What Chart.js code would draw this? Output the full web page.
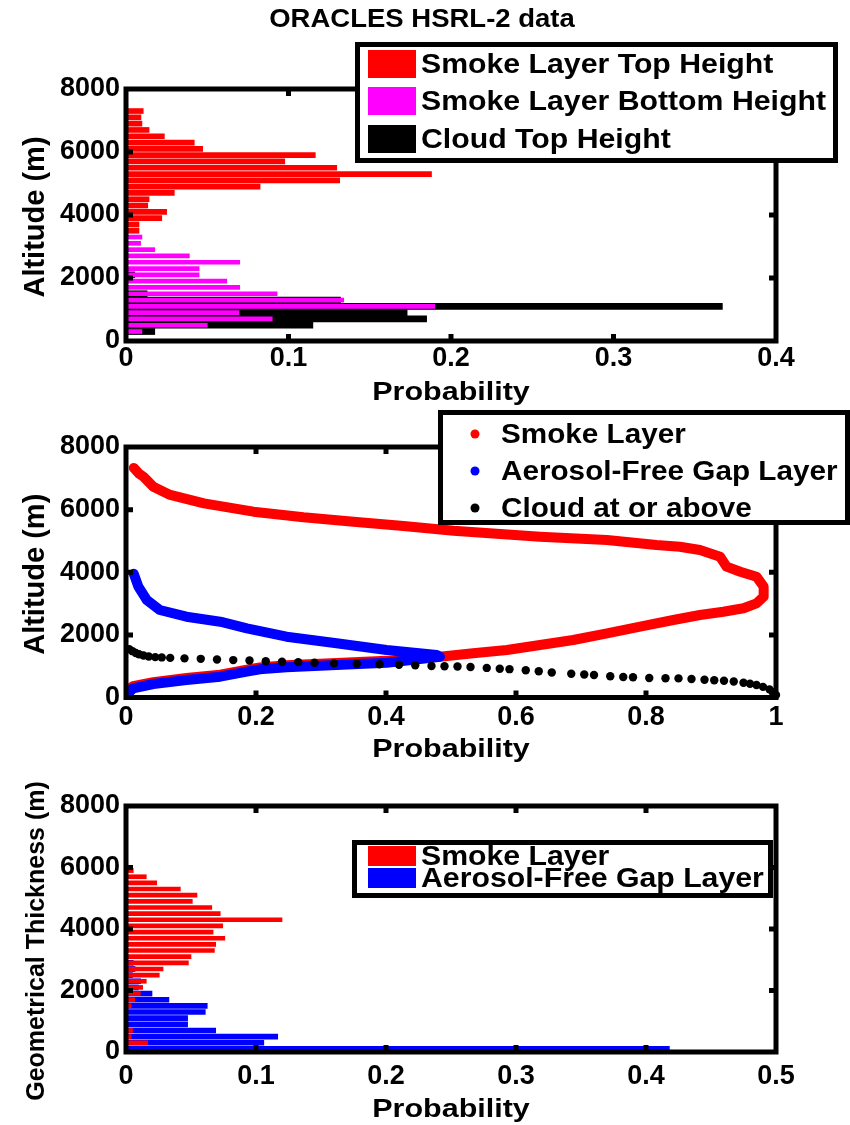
<!DOCTYPE html>
<html>
<head>
<meta charset="utf-8">
<title>ORACLES HSRL-2 data</title>
<script src="https://cdn.jsdelivr.net/npm/chart.js@4.4.0/dist/chart.umd.min.js"></script>
<style>
    body { margin: 0; background: #fff; }
    #quadro { position: relative; width: 850px; height: 1125px; }
    .painel { position: absolute; left: 0; }
</style>
</head>
<body>
<div id="quadro">
    <canvas id="grafico1" class="painel" style="top:0" width="850" height="405"></canvas>
    <canvas id="grafico2" class="painel" style="top:405px" width="850" height="360"></canvas>
    <canvas id="grafico3" class="painel" style="top:765px" width="850" height="360"></canvas>
</div>
<script>
// Painel 1 - centro de cada classe de 200 m (altitude, m)
var altitudesPainel1 = [300, 500, 700, 900, 1100, 1300, 1500, 1700, 1900, 2100,
    2300, 2500, 2700, 2900, 3100, 3300, 3500, 3700, 3900, 4100,
    4300, 4500, 4700, 4900, 5100, 5300, 5500, 5700, 5900, 6100,
    6300, 6500, 6700, 6900, 7100, 7300];
var probTopoFumaca = [0, 0, 0, 0, 0, 0, 0, 0, 0, 0,
    0, 0, 0, 0, 0, 0.001, 0.008, 0.008, 0.022, 0.025,
    0.0134, 0.0142, 0.0297, 0.0825, 0.1315, 0.188, 0.1297, 0.0977, 0.1165, 0.0472,
    0.042, 0.0236, 0.0142, 0.0098, 0.0092, 0.0106];
var probBaseFumaca = [0.0098, 0.050, 0.090, 0.0695, 0.190, 0.134, 0.093, 0.070, 0.062, 0.045,
    0.045, 0.070, 0.039, 0.0177, 0.009, 0.0098, 0.005, 0.006, 0.003, 0,
    0, 0, 0, 0, 0, 0, 0, 0, 0, 0,
    0, 0, 0, 0, 0, 0];
var probTopoNuvem = [0.0177, 0.115, 0.185, 0.173, 0.367, 0.132, 0.013, 0, 0, 0.0054,
    0, 0, 0, 0, 0, 0, 0, 0, 0, 0,
    0, 0, 0, 0, 0, 0, 0, 0, 0, 0,
    0, 0, 0, 0, 0, 0];

// Painel 2 - probabilidade de ocorrência por altitude
var probCamadaFumaca = [0.012, 0.02, 0.027, 0.042, 0.068, 0.12, 0.196, 0.273, 0.35, 0.427,
    0.504, 0.637, 0.74, 0.816, 0.852, 0.883, 0.914, 0.924, 0.945, 0.970,
    0.981, 0.981, 0.970, 0.950, 0.919, 0.883, 0.842, 0.791, 0.740, 0.688,
    0.637, 0.586, 0.534, 0.483, 0.401, 0.324, 0.247, 0.206, 0.186, 0.145,
    0.093, 0.042, 0.011, 0.002];
var altCamadaFumaca = [7330, 7150, 7050, 6730, 6470, 6200, 5935, 5755, 5616, 5477,
    5328, 5136, 5030, 4870, 4816, 4711, 4497, 4178, 4018, 3858,
    3539, 3219, 3007, 2849, 2740, 2635, 2475, 2261, 2050, 1836,
    1677, 1517, 1411, 1303, 1170, 1100, 1030, 960, 890, 730,
    620, 490, 360, 230];
var probCamadaGap = [0.012, 0.019, 0.032, 0.052, 0.093, 0.145, 0.186, 0.247, 0.324, 0.401,
    0.478, 0.483, 0.401, 0.324, 0.247, 0.206, 0.186, 0.145, 0.093, 0.042,
    0.011, 0.001];
var altCamadaGap = [3950, 3539, 3114, 2795, 2581, 2421, 2210, 1942, 1731, 1517,
    1357, 1303, 1112, 1038, 964, 900, 825, 665, 559, 431,
    294, 80];
var probNuvemAcima = [0.005, 0.01, 0.015, 0.02, 0.027, 0.035, 0.045, 0.055, 0.068, 0.09,
    0.115, 0.14, 0.165, 0.19, 0.215, 0.24, 0.265, 0.29, 0.32, 0.355,
    0.39, 0.42, 0.445, 0.47, 0.49, 0.51, 0.53, 0.555, 0.575, 0.59,
    0.615, 0.635, 0.655, 0.685, 0.705, 0.72, 0.745, 0.765, 0.78, 0.805,
    0.83, 0.85, 0.87, 0.89, 0.905, 0.92, 0.935, 0.95, 0.96, 0.97,
    0.98, 0.99, 0.995, 1.0];
var altNuvemAcima = [1540, 1480, 1420, 1380, 1340, 1310, 1290, 1280, 1265, 1250,
    1235, 1215, 1195, 1180, 1160, 1140, 1130, 1110, 1090, 1075,
    1060, 1045, 1030, 1005, 1000, 990, 975, 945, 920, 905,
    870, 840, 800, 760, 735, 720, 680, 655, 645, 625,
    615, 610, 590, 565, 550, 535, 510, 470, 440, 400,
    340, 260, 170, 80];

// Painel 3 - espessura geométrica (centro da classe de 200 m)
var espessurasPainel3 = [100, 300, 500, 700, 900, 1100, 1300, 1500, 1700, 1900,
    2100, 2300, 2500, 2700, 2900, 3100, 3300, 3500, 3700, 3900,
    4100, 4300, 4500, 4700, 4900, 5100, 5300, 5500, 5700, 5900];
var probEspessuraFumaca = [0, 0.0167, 0.004, 0.005, 0, 0, 0, 0.004, 0.0067, 0.011,
    0.0128, 0.0156, 0.0256, 0.0285, 0.048, 0.050, 0.068, 0.069, 0.076, 0.067,
    0.0744, 0.120, 0.0725, 0.066, 0.051, 0.0546, 0.0418, 0.0236, 0.0156, 0.0056];
var probEspessuraGap = [0.418, 0.106, 0.1167, 0.069, 0.0474, 0.0474, 0.061, 0.0625, 0.033, 0.020,
    0.0095, 0.0113, 0.005, 0.007, 0.0056, 0, 0, 0, 0, 0,
    0, 0, 0, 0, 0, 0, 0, 0, 0, 0];

var fonte = "'Liberation Sans', Arial, Helvetica, sans-serif";
Chart.defaults.font.family = fonte;
Chart.defaults.font.weight = 'bold';
Chart.defaults.color = '#000';

// junta duas listas em pontos {x, y}
function montarPares(listaX, listaY) {
    var pares = [];
    for (var i = 0; i < listaX.length; i++) {
        pares.push({x: listaX[i], y: listaY[i]});
    }
    return pares;
}

// texto em negrito, um pouco alargado como no original
function escreverTexto(ctx, texto, x, y, tamanho, escalaX, alinhamento, base, rotacao) {
    ctx.save();
    ctx.translate(x, y);
    if (rotacao) ctx.rotate(rotacao);
    ctx.scale(escalaX, 1);
    ctx.font = 'bold ' + tamanho + 'px ' + fonte;
    ctx.fillStyle = '#000';
    ctx.textAlign = alinhamento;
    ctx.textBaseline = base;
    ctx.fillText(texto, 0, 0);
    ctx.restore();
}

function desenharLegenda(ctx, chart, leg) {
    ctx.fillStyle = '#fff';
    ctx.fillRect(leg.x, leg.y, leg.largura, leg.altura);
    ctx.lineWidth = 5;
    ctx.strokeStyle = '#000';
    ctx.strokeRect(leg.x, leg.y, leg.largura, leg.altura);

    chart.data.datasets.forEach(function(ds, i) {
        var cy = leg.linhas[i];
        ctx.fillStyle = ds.backgroundColor;
        if (leg.tipo == 'ponto') {
            ctx.beginPath();
            ctx.arc(leg.marcadorX, cy, 4.5, 0, Math.PI * 2);
            ctx.fill();
        } else {
            ctx.fillRect(leg.marcadorX, cy - leg.marcadorAltura / 2, 48, leg.marcadorAltura);
        }
        escreverTexto(ctx, ds.label, leg.textoX, cy + 1, 28, leg.escalaTexto || 1.08, 'left', 'middle');
    });
}

// caixa com marcas internas no estilo MATLAB + títulos + legenda
var moldura = {
    id: 'moldura',
    afterDraw: function(chart, args, opcoes) {
        var ctx = chart.ctx;
        var area = chart.chartArea;
        var escalaX = chart.scales.x;
        var escalaY = chart.scales.y;
        ctx.save();
        ctx.strokeStyle = '#000';
        ctx.lineWidth = 5;
        ctx.beginPath();
        escalaX.ticks.forEach(function(t) {
            var px = escalaX.getPixelForValue(t.value);
            if (px <= area.left + 3 || px >= area.right - 3) return;
            ctx.moveTo(px, area.bottom);
            ctx.lineTo(px, area.bottom - 7);
            ctx.moveTo(px, area.top);
            ctx.lineTo(px, area.top + 7);
        });
        escalaY.ticks.forEach(function(t) {
            var py = escalaY.getPixelForValue(t.value);
            if (py <= area.top + 3 || py >= area.bottom - 3) return;
            ctx.moveTo(area.left, py);
            ctx.lineTo(area.left + 7, py);
            ctx.moveTo(area.right, py);
            ctx.lineTo(area.right - 7, py);
        });
        ctx.stroke();
        ctx.strokeRect(area.left, area.top, area.right - area.left, area.bottom - area.top);

        if (opcoes.titulo) {
            escreverTexto(ctx, opcoes.titulo, 422, 27, 25, 1.1, 'center', 'alphabetic');
        }
        escreverTexto(ctx, 'Probability', (area.left + area.right) / 2, opcoes.baseTituloX, 25, 1.22, 'center', 'alphabetic');
        escreverTexto(ctx, opcoes.tituloY, 44, (area.top + area.bottom) / 2 + opcoes.deslocTituloY,
            opcoes.tamanhoTituloY, 1, 'center', 'alphabetic', -Math.PI / 2);

        if (opcoes.legenda) {
            desenharLegenda(ctx, chart, opcoes.legenda);
        }
        ctx.restore();
    }
};

function formatarDecimal(valor) {
    return String(Math.round(valor * 10) / 10);
}

function criarEscalas(maxX, passoX, alturaX, paddingTicksX) {
    return {
        x: {
            type: 'linear', min: 0, max: maxX, offset: false,
            grid: {display: false, drawTicks: false},
            border: {display: false},
            ticks: {stepSize: passoX, padding: paddingTicksX, font: {size: 27}, callback: formatarDecimal, maxRotation: 0},
            afterFit: function(escala) { escala.height = alturaX; }
        },
        y: {
            type: 'linear', min: 0, max: 8000, offset: false,
            grid: {display: false, drawTicks: false, offset: false},
            border: {display: false},
            ticks: {stepSize: 2000, padding: 6, font: {size: 27}, callback: function(v) { return String(v); }},
            afterFit: function(escala) { escala.width = 126; }
        }
    };
}

// ---------- Painel 1 ----------
new Chart(document.getElementById('grafico1'), {
    type: 'bar',
    data: {
        datasets: [{
            label: 'Smoke Layer Top Height',
            data: montarPares(probTopoFumaca, altitudesPainel1),
            backgroundColor: '#ff0000',
            barThickness: 5
        }, {
            label: 'Smoke Layer Bottom Height',
            data: montarPares(probBaseFumaca, altitudesPainel1),
            backgroundColor: '#ff00ff',
            barThickness: 4
        }, {
            label: 'Cloud Top Height',
            data: montarPares(probTopoNuvem, altitudesPainel1),
            backgroundColor: '#000000',
            barThickness: 6
        }]
    },
    options: {
        indexAxis: 'y',
        responsive: false,
        animation: false,
        datasets: {bar: {grouped: false}},
        layout: {padding: {top: 89, right: 74, bottom: 0, left: 0}},
        scales: criarEscalas(0.4, 0.1, 64, 1),
        plugins: {
            legend: {display: false},
            tooltip: {enabled: false},
            moldura: {
                titulo: 'ORACLES HSRL-2 data',
                baseTituloX: 400,
                tituloY: 'Altitude (m)', tamanhoTituloY: 29, deslocTituloY: 2,
                legenda: {x: 357.5, y: 44.5, largura: 478, altura: 116, linhas: [64, 101, 139],
                          tipo: 'quadrado', marcadorX: 368, marcadorAltura: 28, textoX: 421}
            }
        }
    },
    plugins: [moldura]
});

// ---------- Painel 2 ----------
new Chart(document.getElementById('grafico2'), {
    type: 'scatter',
    data: {
        datasets: [{
            label: 'Smoke Layer',
            data: montarPares(probCamadaFumaca, altCamadaFumaca),
            showLine: true,
            borderColor: '#ff0000',
            backgroundColor: '#ff0000',
            borderWidth: 10,
            borderJoinStyle: 'round',
            borderCapStyle: 'round',
            pointRadius: 0,
            order: 3
        }, {
            label: 'Aerosol-Free Gap Layer',
            data: montarPares(probCamadaGap, altCamadaGap),
            showLine: true,
            borderColor: '#0000ff',
            backgroundColor: '#0000ff',
            borderWidth: 10,
            borderJoinStyle: 'round',
            borderCapStyle: 'round',
            pointRadius: 0,
            order: 2
        }, {
            label: 'Cloud at or above',
            data: montarPares(probNuvemAcima, altNuvemAcima),
            showLine: false,
            backgroundColor: '#000000',
            borderWidth: 0,
            pointRadius: 4.2,
            clip: false,
            order: 1
        }]
    },
    options: {
        responsive: false,
        animation: false,
        layout: {padding: {top: 42, right: 74, bottom: 0, left: 0}},
        scales: criarEscalas(1, 0.2, 67.5, 4),
        plugins: {
            legend: {display: false},
            tooltip: {enabled: false},
            moldura: {
                baseTituloX: 352,
                tituloY: 'Altitude (m)', tamanhoTituloY: 29, deslocTituloY: 2,
                legenda: {x: 440.5, y: 7.5, largura: 407, altura: 110, linhas: [29, 66, 103],
                          tipo: 'ponto', marcadorX: 475, textoX: 501, escalaTexto: 1.06}
            }
        }
    },
    plugins: [moldura]
});

// ---------- Painel 3 ----------
new Chart(document.getElementById('grafico3'), {
    type: 'bar',
    data: {
        datasets: [{
            label: 'Smoke Layer',
            data: montarPares(probEspessuraFumaca, espessurasPainel3),
            backgroundColor: '#ff0000',
            barThickness: 4
        }, {
            label: 'Aerosol-Free Gap Layer',
            data: montarPares(probEspessuraGap, espessurasPainel3),
            backgroundColor: '#0000ff',
            barThickness: 5
        }]
    },
    options: {
        indexAxis: 'y',
        responsive: false,
        animation: false,
        datasets: {bar: {grouped: false}},
        layout: {padding: {top: 41, right: 74, bottom: 0, left: 0}},
        scales: criarEscalas(0.5, 0.1, 73, 8),
        plugins: {
            legend: {display: false},
            tooltip: {enabled: false},
            moldura: {
                baseTituloX: 352,
                tituloY: 'Geometrical Thickness (m)', tamanhoTituloY: 25, deslocTituloY: 12,
                legenda: {x: 354.5, y: 77.5, largura: 416, altura: 53, linhas: [91, 113],
                          tipo: 'quadrado', marcadorX: 368, marcadorAltura: 20, textoX: 421}
            }
        }
    },
    plugins: [moldura]
});
</script>
</body>
</html>
